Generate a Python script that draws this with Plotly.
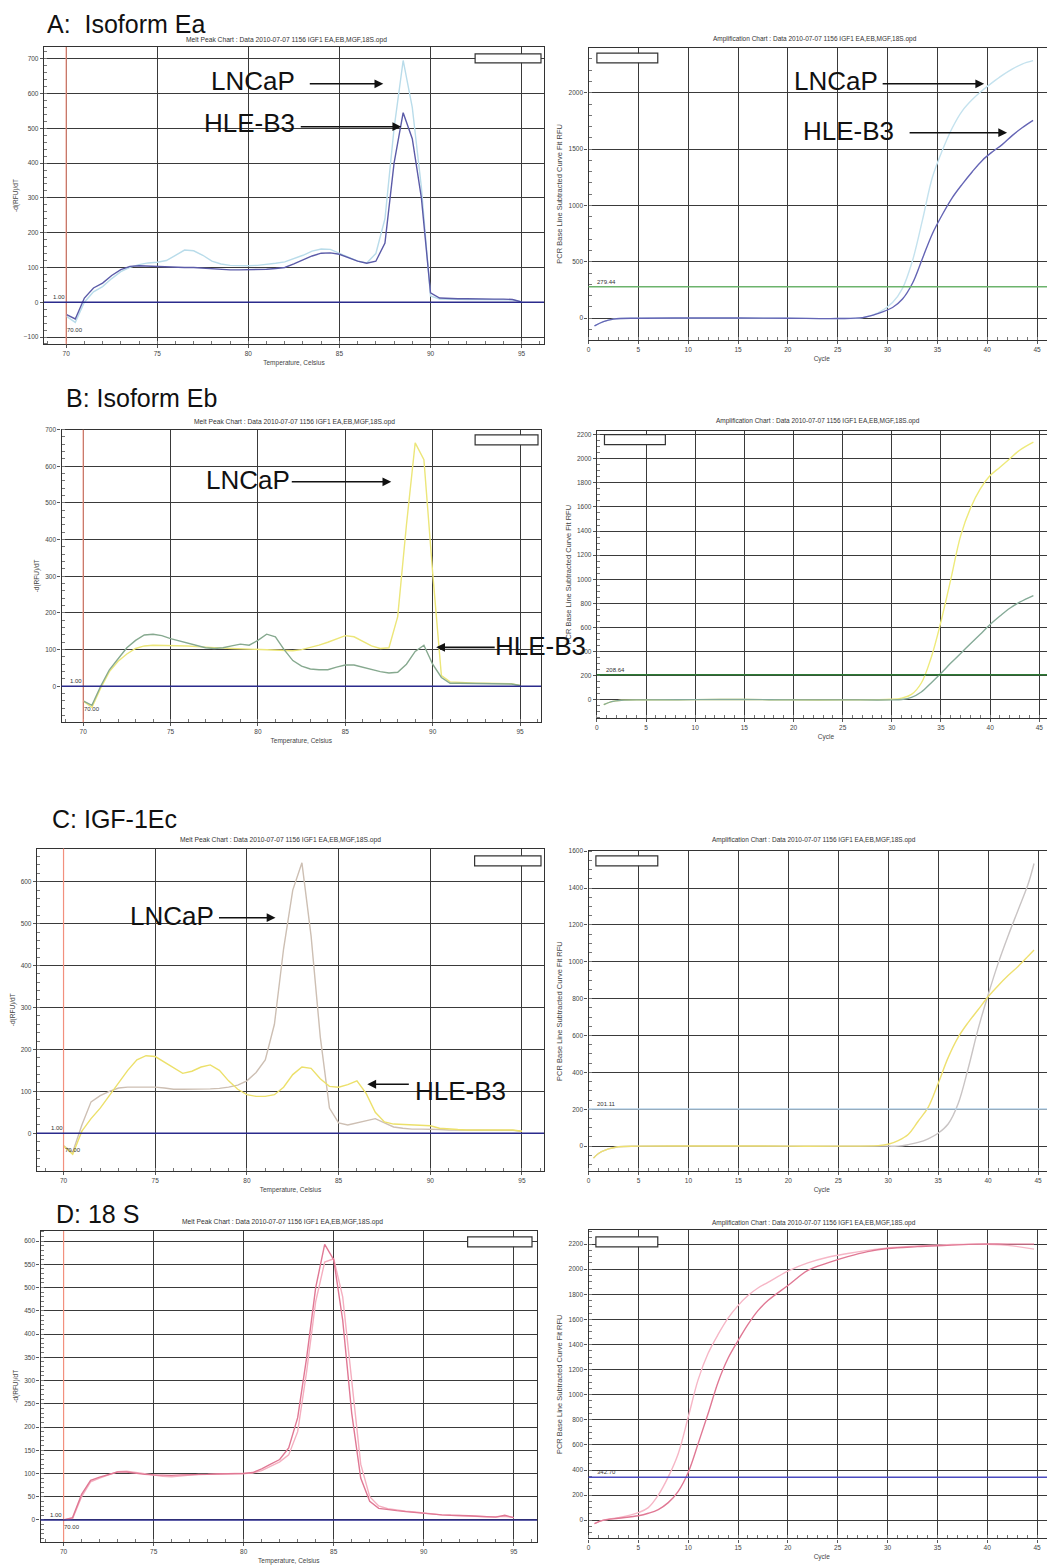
import plotly.graph_objects as go

W, H = 1055, 1567
OFF = 8  # page body margin of the viewer, in pixels

# ---------------- data ----------------
temps = [70.0, 70.5, 71.0, 71.5, 72.0, 72.5, 73.0, 73.5, 74.0, 74.5,
         75.0, 75.5, 76.0, 76.5, 77.0, 77.5, 78.0, 78.5, 79.0, 79.5,
         80.0, 80.5, 81.0, 81.5, 82.0, 82.5, 83.0, 83.5, 84.0, 84.5,
         85.0, 85.5, 86.0, 86.5, 87.0, 87.5, 88.0, 88.5, 89.0, 89.5,
         90.0, 90.5, 91.0, 91.5, 92.0, 92.5, 93.0, 93.5, 94.0, 94.5, 95.0]

# A: Isoform Ea melt peaks
ea_melt_lncap = [-40, -58, 0, 30, 45, 68, 88, 100, 108, 113,
                 115, 120, 135, 150, 148, 135, 118, 110, 106, 105,
                 105, 106, 108, 112, 116, 125, 135, 147, 153, 152,
                 140, 128, 118, 113, 140, 240, 500, 695, 560, 330,
                 18, 9, 8, 8, 8, 8, 8, 8, 8, 7, 1]
ea_melt_hle = [-35, -48, 12, 41, 55, 77, 94, 103, 105, 104,
               101, 101, 100, 100, 100, 98, 95, 93, 93, 93,
               93, 94, 95, 97, 100, 110, 122, 133, 141, 142,
               138, 127, 118, 112, 118, 170, 400, 545, 470, 300,
               27, 12, 10, 10, 10, 9, 9, 9, 9, 8, 1]

# B: Isoform Eb melt peaks
eb_melt_lncap = [-40, -58, -5, 40, 68, 88, 103, 110, 112, 112,
                 112, 111, 110, 108, 106, 105, 104, 103, 102, 101,
                 100, 100, 99, 98, 97, 100, 105, 112, 120, 130,
                 138, 135, 122, 110, 103, 105, 190, 440, 664, 618,
                 310, 29, 12, 10, 9, 8, 8, 8, 7, 7, 2]
eb_melt_hle = [-40, -52, 0, 45, 75, 105, 125, 140, 142, 138,
               130, 124, 118, 112, 105, 103, 105, 110, 115, 112,
               125, 142, 135, 100, 70, 55, 47, 45, 45, 52,
               58, 58, 52, 45, 40, 36, 38, 60, 95, 112,
               60, 24, 8, 8, 8, 7, 7, 7, 6, 6, 2]

# C: IGF-1Ec melt peaks
ec_melt_lncap = [-30, -45, 20, 75, 90, 100, 108, 110, 110, 110,
                 110, 108, 105, 105, 105, 106, 106, 107, 110, 115,
                 125, 145, 175, 260, 440, 580, 645, 470, 230, 60,
                 25, 20, 25, 30, 35, 25, 15, 12, 10, 10,
                 10, 9, 8, 8, 8, 8, 7, 7, 7, 7, 5]
ec_melt_hle = [-30, -50, 5, 35, 60, 90, 120, 150, 175, 185,
               183, 170, 155, 143, 148, 158, 163, 150, 125, 105,
               92, 88, 88, 92, 110, 140, 158, 155, 130, 112,
               110, 116, 125, 95, 50, 27, 22, 21, 20, 20,
               18, 12, 10, 9, 8, 8, 8, 8, 8, 8, 5]

# D: 18 S melt peaks
s18_melt_a = [0, 5, 55, 85, 92, 98, 103, 103, 100, 98,
              97, 96, 96, 97, 97, 97, 98, 99, 99, 100,
              100, 102, 110, 120, 130, 155, 220, 350, 500, 593,
              560, 430, 230, 90, 40, 25, 22, 20, 18, 16,
              14, 12, 11, 10, 10, 9, 8, 7, 6, 10, 5]
s18_melt_b = [0, 3, 50, 82, 90, 97, 104, 105, 102, 99,
              96, 94, 93, 95, 97, 98, 98, 99, 100, 100,
              100, 101, 106, 115, 125, 140, 190, 320, 470, 555,
              562, 480, 300, 120, 50, 30, 24, 21, 19, 17,
              15, 12, 11, 10, 9, 9, 8, 7, 7, 8, 5]

# Amplification curves
ea_amp_cycles = [0.6, 1.5, 2.5, 5, 10, 15, 20, 25, 27.5, 29, 30.5, 31.5, 32.5,
                 33.5, 34.5, 35.5, 36.5, 37.5, 38.5, 39.5, 40.5, 41.5, 42.5, 43.5, 44.6]
ea_amp_lncap = [-68, -30, -8, 0, 2, 2, 0, -3, 5, 45, 140, 265, 510,
                870, 1250, 1490, 1690, 1840, 1940, 2020, 2090, 2155, 2210, 2255, 2285]
ea_amp_hle = [-68, -30, -8, 0, 2, 2, 0, -3, 5, 40, 95, 170, 310,
              530, 750, 920, 1070, 1190, 1300, 1400, 1475, 1540, 1620, 1690, 1755]

eb_amp_cycles = [0.7, 1.5, 2.5, 5, 10, 15, 20, 25, 30, 31, 32, 33, 34, 35,
                 36, 37, 38, 39, 40, 41, 42, 43, 44.4]
eb_amp_lncap = [-40, -15, -3, 0, 2, 3, 0, 0, 5, 15, 45, 140, 350, 650,
                1000, 1360, 1590, 1750, 1860, 1930, 2000, 2070, 2137]
eb_amp_hle = [-40, -15, -3, 0, 2, 3, 0, 0, 0, 3, 20, 65, 140, 220,
              305, 385, 465, 545, 625, 695, 760, 810, 865]

ec_amp_cycles = [0.5, 1, 2, 3, 5, 10, 15, 20, 25, 29, 30, 31, 32, 33, 34, 35,
                 36, 37, 38, 39, 40, 41, 42, 43, 44, 44.6]
ec_amp_lncap = [-65, -40, -15, -3, 0, 1, 1, 0, 0, 0, 0, 0, 8, 20, 40, 70,
                120, 230, 420, 635, 820, 990, 1140, 1280, 1420, 1533]
ec_amp_hle = [-65, -40, -15, -3, 0, 1, 1, 0, 0, 3, 10, 30, 63, 135, 210, 340,
              480, 590, 670, 740, 810, 870, 925, 975, 1030, 1064]

s18_amp_cycles = [0.6, 1.5, 3, 5, 6, 7, 8, 9, 10, 11, 12, 13, 14, 15, 16, 17, 18,
                  20, 22, 24, 26, 28, 30, 33, 36, 39, 42, 44.7]
s18_amp_a = [-27, 0, 15, 35, 55, 85, 140, 230, 380, 610, 850, 1100, 1290, 1430, 1560,
             1670, 1750, 1870, 1990, 2050, 2100, 2140, 2165, 2180, 2190, 2200, 2200, 2200]
s18_amp_b = [-27, 0, 20, 60, 100, 200, 345, 530, 820, 1120, 1330, 1480, 1610, 1710, 1790,
             1850, 1895, 1985, 2050, 2095, 2125, 2150, 2170, 2185, 2195, 2200, 2190, 2160]

thresholds = [279.44, 208.64, 201.11, 342.70]
panel_titles = ["A:  Isoform Ea", "B: Isoform Eb", "C: IGF-1Ec", "D: 18 S"]
cell_lines = ["LNCaP", "HLE-B3"]
melt_header = "Melt Peak Chart : Data 2010-07-07 1156 IGF1 EA,EB,MGF,18S.opd"
amp_header = "Amplification Chart : Data 2010-07-07 1156 IGF1 EA,EB,MGF,18S.opd"

# ---------------- layout geometry (pixels of the reference picture) ----------------
def PX(px):
    return (px - OFF) / W

def PY(py):
    return 1 - (py - OFF) / H

def axid(n):
    return "" if n == 1 else str(n)

melt_frames = [(42, 543, 43, 341), (59.6, 540, 426.7, 720),
               (35, 543, 846.7, 1170), (38.6, 536, 1230, 1541.7)]
melt_xr = [(68.78, 96.23), (68.76, 96.2), (68.55, 96.2), (68.72, 96.29)]
melt_yr = [(-120.5, 734), (-98, 700), (-90, 679), (-47, 622)]
melt_ydtick = [100, 100, 100, 50]
melt_yminor = [20, 20, 20, 10]

amp_frames = [(587.6, 1055, 44, 336.7), (596, 1055, 428.3, 716),
              (587.6, 1055, 849.3, 1170), (587.6, 1055, 1229.3, 1538.3)]
amp_xr = [(0, 46.8), (0, 46.6), (0, 46.7), (0, 46.8)]
amp_yr = [(-192, 2398), (-152, 2228), (-135, 1600), (-145, 2311)]
amp_ydtick = [500, 200, 200, 200]
amp_yminor = [100, 50, 50, 50]

melt_series = [(ea_melt_lncap, ea_melt_hle), (eb_melt_lncap, eb_melt_hle),
               (ec_melt_lncap, ec_melt_hle), (s18_melt_b, s18_melt_a)]
melt_colors = [("#b9dcea", "#5b5ba8"), ("#ece679", "#86a98f"),
               ("#cdbfb3", "#ece06a"), ("#f4aebf", "#e07894")]
amp_series = [(ea_amp_cycles, ea_amp_lncap, ea_amp_hle),
              (eb_amp_cycles, eb_amp_lncap, eb_amp_hle),
              (ec_amp_cycles, ec_amp_lncap, ec_amp_hle),
              (s18_amp_cycles, s18_amp_b, s18_amp_a)]
amp_colors = [("#c4e2ee", "#6565b5"), ("#eeea7a", "#86ab98"),
              ("#c9c4c4", "#eee070"), ("#f6b6c6", "#e07894")]
thr_colors = ["#6cb36c", "#2f7a35", "#b7d3ea", "#4b4bc0"]

title_pos = [(43, 20), (62, 395), (48, 817.5), (52, 1213.5)]
melt_header_pos = [(285, 36.5), (293, 419), (279, 838), (281, 1221)]
amp_header_pos = [(815, 35.5), (818, 418), (814, 838), (814, 1222)]
melt_legend_box = [(474, 540, 50, 59), (474, 537, 432, 442),
                   (473.5, 540, 854, 864), (466.5, 531, 1236, 1246)]
amp_legend_box = [(596, 657, 49.3, 59), (603.6, 664.6, 431.7, 441.7),
                  (595, 657, 854, 864), (595, 657, 1236, 1246)]
one_pos = [(57, 294), (74, 679), (55, 1127), (54, 1515)]
seventy_pos = [(73.5, 327), (90, 707), (71.5, 1149), (70.5, 1527)]

# label text (name index, center x, center y) and arrows (tail x, head x, y)
label_specs = [(0, 251.5, 77), (1, 248, 119), (0, 836, 77.5), (1, 848, 127.5),
               (0, 246.5, 477), (1, 540, 644), (0, 170, 914), (1, 459.5, 1090)]
arrow_specs = [(307, 382, 80), (298, 400, 123), (881, 984, 80), (908, 1007, 129),
               (289, 390, 479), (495, 435, 645), (216, 274, 916), (409, 366, 1083)]

FONT = "Liberation Sans, Arial, sans-serif"
GRID = "#3a3a3a"

fig = go.Figure()
layout = dict(width=W, height=H, margin=dict(l=0, r=0, t=0, b=0),
              paper_bgcolor="white", plot_bgcolor="white", showlegend=False,
              font=dict(family=FONT, color="#333"))
shapes, annotations = [], []


def note(text, px, py, size, color="#333", xanchor="center"):
    return dict(text=text, x=PX(px), y=PY(py), xref="paper", yref="paper", showarrow=False,
                xanchor=xanchor, yanchor="middle",
                font=dict(size=size, color=color, family=FONT))


def axis(domain, rng, dtick, tick0, minor_dtick, anchor, title, tsize):
    return dict(domain=domain, range=list(rng), anchor=anchor, dtick=dtick, tick0=tick0,
                showgrid=True, gridcolor=GRID, gridwidth=1.3,
                showline=True, linecolor="#333", linewidth=1.3, mirror=True,
                zeroline=False, ticks="outside", ticklen=3, tickwidth=1, tickcolor="#555",
                tickfont=dict(size=6.5, color="#444", family=FONT),
                minor=dict(ticks="inside", ticklen=3, dtick=minor_dtick,
                           tickcolor="#777", tickwidth=1, showgrid=False),
                title=dict(text=title, font=dict(size=tsize, color="#444", family=FONT), standoff=4),
                fixedrange=True)


for i in range(4):
    m, a = axid(2 * i + 1), axid(2 * i + 2)
    # ---------- melt chart ----------
    l, r, t, b = melt_frames[i]
    layout[f"xaxis{m}"] = axis([PX(l), PX(r)], melt_xr[i], 5, 70, 1, f"y{m}",
                               "Temperature, Celsius", 6.5)
    layout[f"yaxis{m}"] = axis([PY(b), PY(t)], melt_yr[i], melt_ydtick[i], 0,
                               melt_yminor[i], f"x{m}", "-d(RFU)/dT", 6.5)
    c1, c2 = melt_colors[i]
    s1, s2 = melt_series[i]
    fig.add_trace(go.Scatter(x=temps, y=s1, mode="lines", line=dict(color=c1, width=1.4),
                             xaxis=f"x{m}", yaxis=f"y{m}", name=cell_lines[0]))
    fig.add_trace(go.Scatter(x=temps, y=s2, mode="lines", line=dict(color=c2, width=1.4),
                             xaxis=f"x{m}", yaxis=f"y{m}", name=cell_lines[1]))
    # start marker and baseline
    shapes.append(dict(type="line", xref=f"x{m}", yref=f"y{m} domain", x0=temps[0], x1=temps[0],
                       y0=0, y1=1, line=dict(color="#f2907e", width=1.2), layer="above"))
    shapes.append(dict(type="line", xref=f"x{m} domain", yref=f"y{m}", x0=0, x1=1, y0=0, y1=0,
                       line=dict(color="#2b2b8c", width=1.6), layer="above"))
    bl, br, bt, bb = melt_legend_box[i]
    shapes.append(dict(type="rect", xref="paper", yref="paper", x0=PX(bl), x1=PX(br),
                       y0=PY(bb), y1=PY(bt), line=dict(color="#333", width=1.2),
                       fillcolor="white", layer="above"))
    annotations.append(note(melt_header, *melt_header_pos[i], 6.7))
    annotations.append(note("1.00", *one_pos[i], 6))
    annotations.append(note("70.00", *seventy_pos[i], 6))
    annotations.append(note(panel_titles[i], *title_pos[i], 25, "#111", "left"))

    # ---------- amplification chart ----------
    l, r, t, b = amp_frames[i]
    layout[f"xaxis{a}"] = axis([PX(l), PX(r)], amp_xr[i], 5, 0, 1, f"y{a}", "Cycle", 6.5)
    layout[f"yaxis{a}"] = axis([PY(b), PY(t)], amp_yr[i], amp_ydtick[i], 0, amp_yminor[i],
                               f"x{a}", "PCR Base Line Subtracted Curve Fit RFU", 7.5)
    cyc, v1, v2 = amp_series[i]
    c1, c2 = amp_colors[i]
    fig.add_trace(go.Scatter(x=cyc, y=v1, mode="lines", line=dict(color=c1, width=1.4, shape="spline"),
                             xaxis=f"x{a}", yaxis=f"y{a}", name=cell_lines[0]))
    fig.add_trace(go.Scatter(x=cyc, y=v2, mode="lines", line=dict(color=c2, width=1.4, shape="spline"),
                             xaxis=f"x{a}", yaxis=f"y{a}", name=cell_lines[1]))
    shapes.append(dict(type="line", xref=f"x{a} domain", yref=f"y{a}", x0=0, x1=1,
                       y0=thresholds[i], y1=thresholds[i],
                       line=dict(color=thr_colors[i], width=1.6), layer="above"))
    annotations.append(dict(text=f"{thresholds[i]:.2f}", x=0.7, y=thresholds[i], xref=f"x{a}", yref=f"y{a}",
                            xanchor="left", yanchor="bottom", showarrow=False,
                            font=dict(size=6, color="#333", family=FONT)))
    bl, br, bt, bb = amp_legend_box[i]
    shapes.append(dict(type="rect", xref="paper", yref="paper", x0=PX(bl), x1=PX(br),
                       y0=PY(bb), y1=PY(bt), line=dict(color="#333", width=1.2),
                       fillcolor="white", layer="above"))
    annotations.append(note(amp_header, *amp_header_pos[i], 6.5))

# cell line labels and arrows
for (k, cx, cy) in label_specs:
    annotations.append(note(cell_lines[k], cx, cy, 26, "#111"))
for (tx, hx, y) in arrow_specs:
    annotations.append(dict(text="", x=PX(hx), y=PY(y), xref="paper", yref="paper",
                            ax=tx - hx, ay=0, axref="pixel", ayref="pixel", showarrow=True,
                            arrowhead=2, arrowsize=1.1, arrowwidth=1.6, arrowcolor="#111"))

layout["shapes"] = shapes
layout["annotations"] = annotations
fig.update_layout(**layout)
fig.write_html("out.html")
